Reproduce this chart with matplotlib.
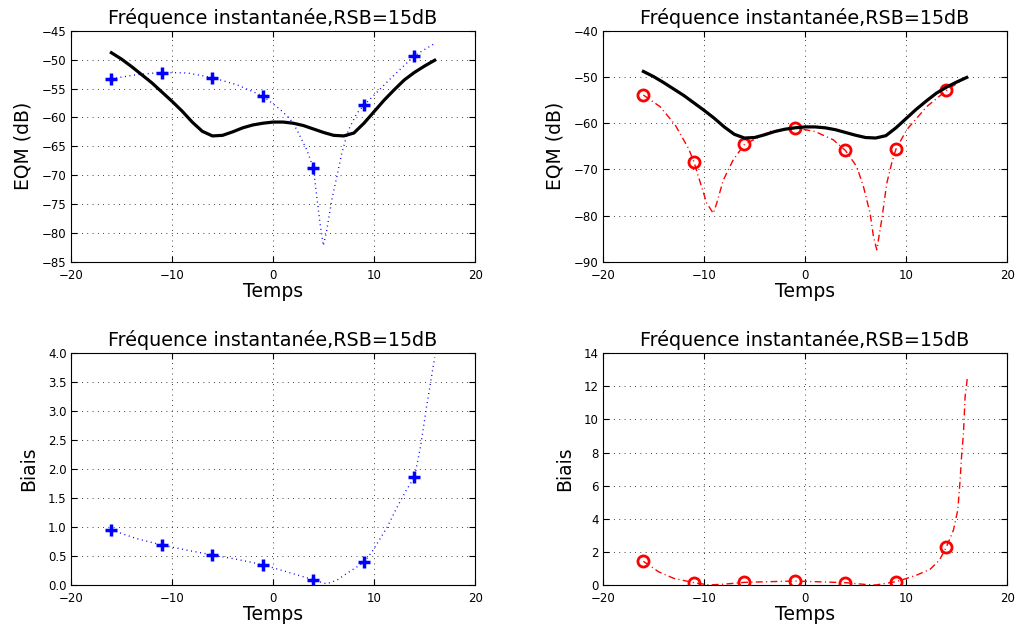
import matplotlib
import matplotlib.pyplot as plt

matplotlib.use('Agg')
plt.rcParams['font.family'] = ['DejaVu Sans']
plt.rcParams['lines.scale_dashes'] = False

# sample times of the estimates
marker_t = [-16, -11, -6, -1, 4, 9, 14]

# EQM, blue estimator (+)
eqm_blue_pts = [-53.3, -52.25, -53.1, -56.3, -68.8, -57.9, -49.3]
eqm_blue_t = [-16, -13.5, -11, -8.5, -6, -3.5, -1, 0.7, 1.7, 2.35, 3.34, 4, 4.33, 4.65, 4.98,
              5.32, 5.81, 6.31, 6.8, 7.46, 8.29, 9, 11.5, 14, 16]
eqm_blue = [-53.3, -52.6, -52.2, -52.3, -53.1, -54.4, -56.3, -58.6, -60.3, -62.1, -65.6, -68.8, -73.7, -78.3, -82.2,
            -79.5, -74.3, -70.3, -66.2, -62.2, -59.3, -57.9, -53.5, -49.3, -47.2]

# EQM, red estimator (o)
eqm_red_pts = [-53.9, -68.3, -64.6, -61.0, -65.9, -65.6, -52.9]
eqm_red_t = [-16, -14.36, -12.87, -11.55, -11, -10.56, -9.73, -9.08, -8.74, -8.09, -7.1, -6, -3.5, -1, 1, 2.8, 4,
             5.12, 5.78, 6.44, 6.77, 7.1, 7.59, 8.09, 8.58, 9, 10.07, 12.05, 14, 16]
eqm_red = [-53.9, -56.4, -60.3, -65.4, -68.3, -71.5, -77.3, -79.5, -77.3, -72.3, -67.9, -64.6, -61.8, -61.0, -61.8, -63.6, -65.9,
           -69.4, -73.7, -79.5, -84.5, -87.4, -80.9, -73.0, -68.6, -65.6, -61.4, -56.4, -52.9, -50.0]

# bound (black solid)
bound_t = list(range(-16, 17))
bound = [-48.8, -49.9, -51.2, -52.6, -54.0, -55.6, -57.2, -58.9, -60.8, -62.4, -63.2,
         -63.1, -62.5, -61.8, -61.3, -61.0, -60.8, -60.8, -61.0, -61.4, -62.0, -62.6,
         -63.1, -63.2, -62.7, -61.0, -59.0, -57.0, -55.2, -53.5, -52.2, -51.1, -50.1]

# Biais, blue estimator (+)
biais_blue_pts = [0.95, 0.69, 0.52, 0.35, 0.09, 0.39, 1.86]
biais_blue_t = [-16, -13.5, -11, -8.5, -6, -3.5, -1, 1.5, 4, 5.3, 6.3, 7.3, 9, 9.9, 11.3, 12.3, 13.2, 14, 14.6, 15.2, 16]
biais_blue = [0.95, 0.80, 0.69, 0.60, 0.52, 0.44, 0.35, 0.22, 0.09, 0.02, 0.08, 0.20, 0.39, 0.60, 1.00, 1.35, 1.64, 1.86, 2.39, 3.08, 3.93]

# Biais, red estimator (o)
biais_red_pts = [1.43, 0.14, 0.16, 0.24, 0.14, 0.20, 2.31]
biais_red_t = [-16, -14.5, -13, -11, -9.5, -8, -6, -1, 4, 6, 7, 9, 10.07, 11.06, 12.38, 13.3, 14, 14.69, 15.12, 15.35,
               15.51, 15.68, 15.84, 16.07]
biais_red = [1.43, 0.80, 0.40, 0.14, 0.0, 0.05, 0.16, 0.24, 0.14, 0.03, 0.0, 0.20, 0.40, 0.60, 0.95, 1.50, 2.31, 3.32, 4.53, 6.34,
             7.95, 9.15, 11.36, 12.53]

title = 'Fréquence instantanée,RSB=15dB'
dotted = (0.7, 2.6)
dashdot = (5, 2.4, 0.8, 2.4)


def style_axis(axis, ylim, yticks, ylabel):
    axis.set_xlim(-20, 20)
    axis.set_xticks([-20, -10, 0, 10, 20])
    axis.set_ylim(*ylim)
    axis.set_yticks(yticks)
    axis.grid(True, c='k', lw=0.6, dashes=(0.6, 3.2))
    axis.tick_params(direction='in', top=True, right=True, length=4, labelsize=8.5, pad=3)
    axis.tick_params(axis='x', pad=5)
    for spine in axis.spines.values():
        spine.set_linewidth(0.8)
    axis.set_title(title, fontsize=13.8, pad=5)
    axis.set_xlabel('Temps', fontsize=13.5, labelpad=0)
    axis.set_ylabel(ylabel, fontsize=13.5, labelpad=7)


fig = plt.figure(figsize=(10.18, 6.28), dpi=100)
ax_tl = fig.add_axes([0.0697, 0.583, 0.397, 0.368])
ax_tr = fig.add_axes([0.5923, 0.583, 0.397, 0.368])
ax_bl = fig.add_axes([0.0697, 0.0685, 0.397, 0.369])
ax_br = fig.add_axes([0.5923, 0.0685, 0.397, 0.369])

ax_tl.plot(eqm_blue_t, eqm_blue, lw=1, c='b', dashes=dotted)
ax_tl.plot(marker_t, eqm_blue_pts, ls='none', marker='+', ms=8, mew=2.5, c='b')
ax_tl.plot(bound_t, bound, c='k', lw=2.3)
style_axis(ax_tl, (-85, -45), range(-85, -44, 5), 'EQM (dB)')

ax_tr.plot(eqm_red_t, eqm_red, lw=1, c='r', dashes=dashdot)
ax_tr.plot(marker_t, eqm_red_pts, ls='none', marker='o', ms=8, mew=2, mfc='none', c='r')
ax_tr.plot(bound_t, bound, c='k', lw=2.3)
style_axis(ax_tr, (-90, -40), range(-90, -39, 10), 'EQM (dB)')

ax_bl.plot(biais_blue_t, biais_blue, lw=1, c='b', dashes=dotted)
ax_bl.plot(marker_t, biais_blue_pts, ls='none', marker='+', ms=8, mew=2.5, c='b')
style_axis(ax_bl, (0, 4), [0, 0.5, 1, 1.5, 2, 2.5, 3, 3.5, 4], 'Biais')

ax_br.plot(biais_red_t, biais_red, lw=1, c='r', dashes=dashdot)
ax_br.plot(marker_t, biais_red_pts, ls='none', marker='o', ms=8, mew=2, mfc='none', c='r')
style_axis(ax_br, (0, 14), range(0, 15, 2), 'Biais')

fig.savefig('out.png', dpi=100)
plt.close(fig)
